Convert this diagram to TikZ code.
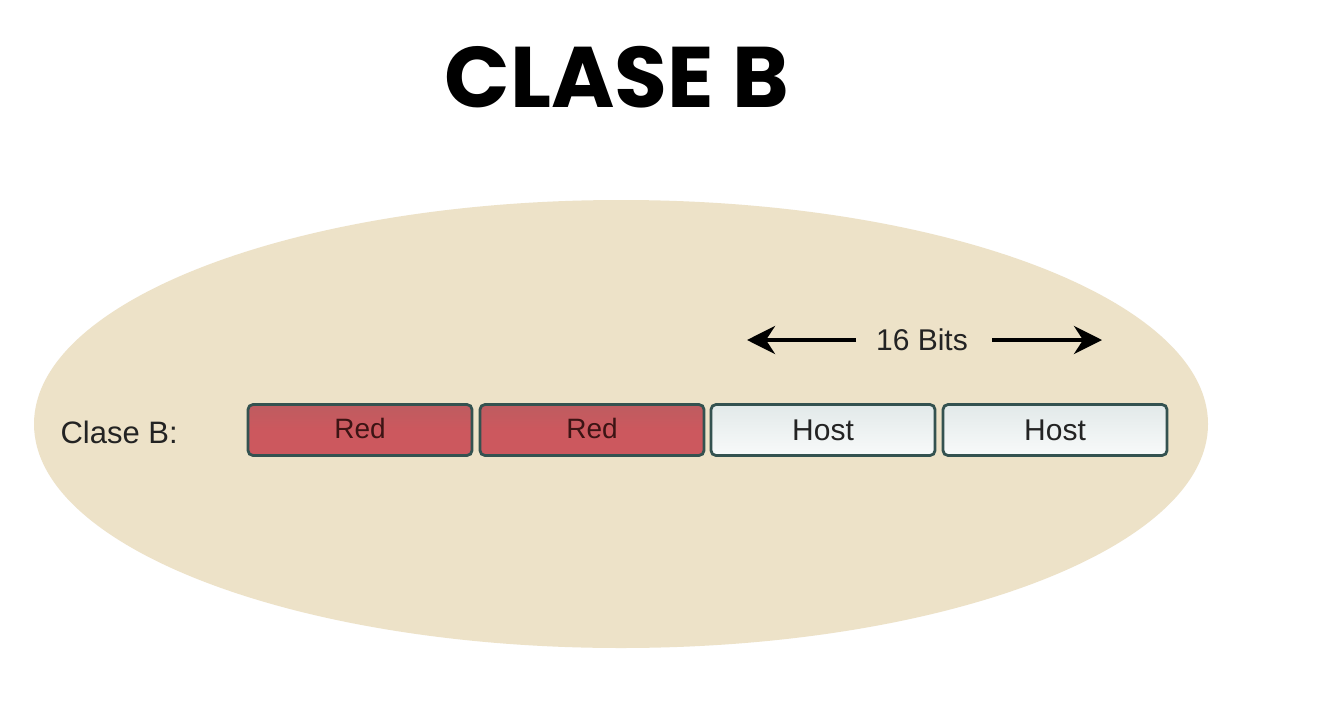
\documentclass[tikz,border=0pt]{standalone}
\usepackage{fontspec}
\setmainfont{Liberation Sans}
\newfontfamily\titlefont{Poppins}
\usetikzlibrary{arrows.meta,shapes.geometric}
\definecolor{bgell}{RGB}{237,226,200}
\definecolor{redfill}{RGB}{204,88,94}
\definecolor{redtop}{RGB}{190,92,96}
\definecolor{boxedge}{RGB}{52,82,80}
\definecolor{hostfill}{RGB}{248,250,250}
\definecolor{hosttop}{RGB}{226,233,233}
\definecolor{txt}{RGB}{35,35,35}
\definecolor{redtxt}{RGB}{60,20,20}
\tikzset{
  field/.style={draw=boxedge, line width=2.8pt, rounded corners=5pt,
    minimum width=224pt, minimum height=51pt, inner sep=0pt,
    font=\fontsize{30}{34}\selectfont, text=txt},
  redbox/.style={field, top color=redtop, bottom color=redfill, middle color=redfill,
    font=\fontsize{28}{30}\selectfont, text=redtxt},
  hostbox/.style={field, top color=hosttop, bottom color=hostfill},
  bitarrow/.style={-{Stealth[length=28pt,width=28pt,inset=9pt]}, line width=4pt}
}
\begin{document}
\begin{tikzpicture}[x=1pt,y=-1pt]
\useasboundingbox (0,0) rectangle (1324,720);
\fill[white] (0,0) rectangle (1324,720);
\node[ellipse, fill=bgell, minimum width=1174pt, minimum height=448pt, inner sep=0pt] (ell) at (621,424) {};
\node[font=\titlefont\bfseries\fontsize{86}{96}\selectfont, anchor=center] (title) at (617,77) {CLASE B};
\node[font=\fontsize{31}{34}\selectfont, text=txt, anchor=west] (lbl) at (57,432) {Clase B:};
\node[redbox] (r1) at (360,430) {\raisebox{3pt}{Red}};
\node[redbox] (r2) at (592,430) {\raisebox{3pt}{Red}};
\node[hostbox] (h1) at (823,430) {Host};
\node[hostbox] (h2) at (1055,430) {Host};
\node[font=\fontsize{30}{34}\selectfont, text=txt] (bits) at (922,340) {16 Bits};
\coordinate (la) at (747,340);
\coordinate (ra) at (1102,340);
\coordinate (lb) at (856,340);
\coordinate (rb) at (992,340);
\draw[bitarrow] (lb) -- (la);
\draw[bitarrow] (rb) -- (ra);
\end{tikzpicture}
\end{document}
